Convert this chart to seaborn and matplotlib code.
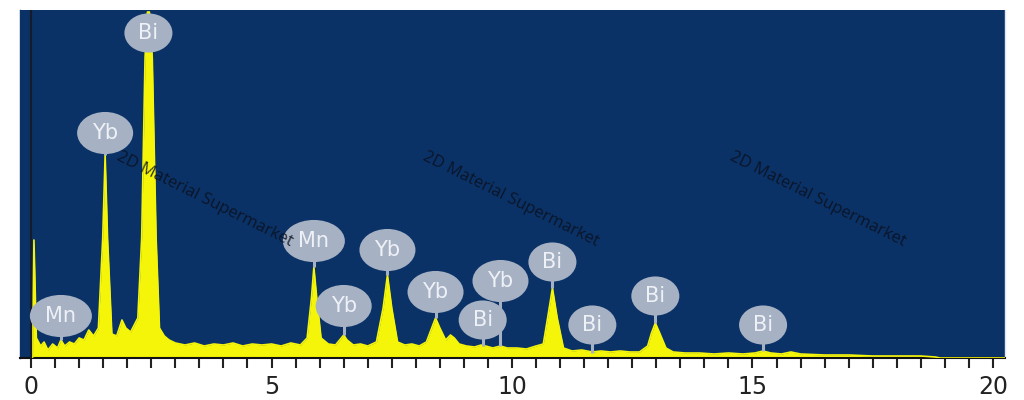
import matplotlib.pyplot as plt
from matplotlib.patches import Ellipse
from matplotlib.ticker import MultipleLocator
import pandas as pd
import seaborn as sns

# EDS spectrum outline (energy in keV, height in counts-ish units)
energy_kev = [
    0.03, 0.06, 0.11, 0.2, 0.27, 0.35, 0.45, 0.55, 0.62, 0.7, 0.8, 0.9, 1.0, 1.1, 1.2, 1.3, 1.4,
    1.49, 1.54, 1.59, 1.68, 1.78, 1.89, 1.97, 2.07, 2.22, 2.3, 2.37, 2.42, 2.46, 2.52, 2.6, 2.67,
    2.77, 2.87, 3.0, 3.2, 3.4, 3.6, 3.8, 4.0, 4.2, 4.4, 4.6, 4.8, 5.0, 5.2, 5.4, 5.6, 5.74, 5.83,
    5.88, 5.94, 6.03, 6.18, 6.33, 6.45, 6.5, 6.57, 6.7, 6.85, 7.0, 7.18, 7.32, 7.41, 7.5, 7.62,
    7.77, 7.92, 8.07, 8.22, 8.33, 8.41, 8.5, 8.62, 8.72, 8.8, 8.9, 9.05, 9.22, 9.36, 9.39, 9.45,
    9.6, 9.76, 9.9, 10.1, 10.3, 10.5, 10.65, 10.74, 10.84, 10.94, 11.07, 11.25, 11.45, 11.67,
    11.85, 12.05, 12.25, 12.45, 12.65, 12.82, 12.9, 12.98, 13.07, 13.2, 13.35, 13.6, 13.9, 14.2,
    14.5, 14.8, 15.05, 15.22, 15.38, 15.6, 15.8, 16.0, 16.5, 17.0, 17.5, 18.0, 18.5, 18.8, 18.9,
    20.25,
]
counts = [
    0, 118, 20, 12, 16, 8, 14, 10, 18, 12, 16, 14, 20, 18, 28, 22, 30,
    120, 203, 120, 24, 22, 38, 30, 26, 40, 120, 300, 346, 346, 300, 120, 30,
    22, 18, 15, 13, 15, 12, 14, 13, 15, 12, 14, 13, 14, 12, 15, 13, 20, 60,
    91, 60, 20, 14, 13, 20, 23, 18, 13, 14, 12, 16, 50, 83, 50, 16,
    13, 14, 12, 16, 30, 40, 30, 18, 23, 20, 14, 12, 11, 13, 12, 12,
    10, 12, 10, 10, 9, 12, 14, 40, 70, 40, 10, 7, 8, 6,
    7, 6, 7, 6, 6, 12, 25, 35, 25, 10, 6, 5, 5, 4,
    5, 4, 5, 7, 5, 4, 6, 4, 3, 3, 2, 2, 2, 1, 0,
    0,
]

# element tags: text, energy of the line, height of tag centre, height of the peak it points to
label_text = ["Mn", "Yb", "Bi", "Mn", "Yb", "Yb", "Yb", "Bi", "Yb", "Bi", "Bi", "Bi", "Bi"]
label_energy = [0.62, 1.54, 2.44, 5.88, 6.50, 7.41, 8.41, 9.39, 9.76, 10.84, 11.67, 12.98, 15.22]
label_height = [42, 225, 325, 117, 52, 108, 66, 38, 77, 96, 33, 62, 33]
label_peak = [18, 203, 346, 91, 23, 83, 40, 12, 12, 70, 5, 35, 7]

watermark = "2D Material Supermarket"
watermark_x = [0.187, 0.498, 0.81]

BG = "#0a3266"
YELLOW = "#f5f50a"
TAG = "#a6b1c4"
PX_PER_KEV = 48.15

sns.set_theme(style="white")
plt.rcParams["font.family"] = ["DejaVu Sans"]

fig = plt.figure(figsize=(10.24, 4.0), dpi=100)
fig.patch.set_facecolor("white")
ax = fig.add_axes([20 / 1024, 42 / 400, 985 / 1024, 348 / 400])
ax.set_facecolor(BG)

spec = pd.DataFrame({"energy": energy_kev, "counts": counts})
ax.fill_between(spec["energy"], spec["counts"], 0, color=YELLOW, lw=0, zorder=2)
sns.lineplot(data=spec, x="energy", y="counts", ax=ax, color=YELLOW, lw=1.2, sort=False, zorder=3)
ax.axvline(0, color="#161a2c", lw=1.6, zorder=4)

tag_w = {"Bi": 46, "Yb": 54, "Mn": 60}
tag_h = {"Bi": 37, "Yb": 40, "Mn": 40}

for txt, e, h, p in zip(label_text, label_energy, label_height, label_peak):
    if p < h:
        ax.plot([e, e], [p, h], color=TAG, lw=2.2, zorder=5, solid_capstyle="butt")

for txt, e, h in zip(label_text, label_energy, label_height):
    ax.add_patch(Ellipse((e, h), width=tag_w[txt] / PX_PER_KEV, height=tag_h[txt],
                         facecolor=TAG, edgecolor=TAG, lw=1.5, zorder=6))
    ax.text(e, h, txt, color="#eef1f6", fontsize=15, ha="center", va="center", zorder=7)

for wx in watermark_x:
    ax.text(wx, 0.457, watermark, transform=ax.transAxes, rotation=-26.5,
            rotation_mode="anchor", ha="center", va="center",
            fontsize=12, family=["Open Sans", "DejaVu Sans"], color="#0b1020", alpha=0.85, zorder=8)

ax.set_xlim(-0.23, 20.25)
ax.set_ylim(0, 348)
ax.set_yticks([])
ax.xaxis.set_major_locator(MultipleLocator(5))
ax.xaxis.set_minor_locator(MultipleLocator(0.5))
ax.tick_params(axis="x", which="both", bottom=True, direction="out", length=7, width=1.5,
               color="#222222", labelsize=17, labelcolor="#222222", pad=5)
ax.set_xlabel("")
ax.set_ylabel("")

ax.spines["top"].set_visible(False)
ax.spines["bottom"].set_color("#111111")
ax.spines["bottom"].set_linewidth(1.5)
ax.spines["left"].set_color(BG)
ax.spines["left"].set_linewidth(1)
ax.spines["right"].set_color("#dfe7f2")
ax.spines["right"].set_linewidth(1)

fig.savefig("out.png", dpi=100)
